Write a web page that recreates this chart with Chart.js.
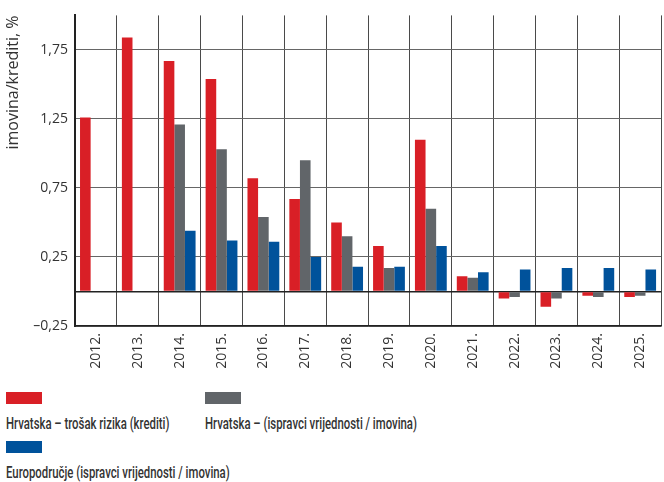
<!DOCTYPE html>
<html>
<head>
<meta charset="utf-8">
<script src="https://cdn.jsdelivr.net/npm/chart.js@4/dist/chart.umd.min.js"></script>
<style>
  body { margin: 0; background: #fff; }
  #wrap { position: relative; width: 664px; height: 482px; }
  #box { position: absolute; left: 0; top: 0; width: 664px; height: 380px; }
  .leg { position: absolute; font-family: Roboto, sans-serif; font-weight: 500; font-size: 16px; color: #333; white-space: nowrap; }
  .leg span { display: block; width: 36px; height: 12px; margin-bottom: 10px; }
  .leg b { display: inline-block; font-weight: 500; transform: scaleX(0.71); transform-origin: 0 0; }
</style>
</head>
<body>
<div id="wrap">
  <div id="box"><canvas id="chart"></canvas></div>
  <div id="legend"></div>
</div>
<script>
// podaci procijenjeni s grafikona
const years = ["2012.", "2013.", "2014.", "2015.", "2016.", "2017.", "2018.", "2019.", "2020.", "2021.", "2022.", "2023.", "2024.", "2025."];
const hrTrosakRizika = [1.26, 1.84, 1.67, 1.54, 0.82, 0.67, 0.50, 0.33, 1.10, 0.11, -0.05, -0.11, -0.03, -0.04];
const hrIspravci = [null, null, 1.21, 1.03, 0.54, 0.95, 0.40, 0.17, 0.60, 0.10, -0.04, -0.05, -0.04, -0.03];
const euIspravci = [null, null, 0.44, 0.37, 0.36, 0.25, 0.18, 0.18, 0.33, 0.14, 0.16, 0.17, 0.17, 0.16];
const yLabels = [-0.25, 0.25, 0.75, 1.25, 1.75];

const seriesNames = [
  "Hrvatska – trošak rizika (krediti)",
  "Hrvatska – (ispravci vrijednosti / imovina)",
  "Europodručje (ispravci vrijednosti / imovina)"
];
const colors = ["#d91f26", "#616569", "#00529b"];

function fmt(v) {
  const s = Math.abs(v).toFixed(2).replace(".", ",");
  return v < 0 ? "–" + s : s;
}
function isLabel(v) {
  return yLabels.some(l => Math.abs(l - v) < 1e-6);
}

const ctx = document.getElementById("chart").getContext("2d");
const chart = new Chart(ctx, {
  type: "bar",
  data: {
    labels: years,
    datasets: [hrTrosakRizika, hrIspravci, euIspravci].map((d, i) => ({
      label: seriesNames[i],
      data: d,
      backgroundColor: colors[i],
      borderWidth: 0,
      categoryPercentage: 0.76,
      barPercentage: 1.0
    }))
  },
  options: {
    responsive: true,
    maintainAspectRatio: false,
    animation: false,
    layout: { padding: { top: 15, right: 1, left: 0, bottom: 0 } },
    plugins: { legend: { display: false }, tooltip: { enabled: false } },
    scales: {
      x: {
        grid: { offset: true, color: "#4a4a4a", lineWidth: 1, drawTicks: false },
        border: { color: "#222", width: 1.5 },
        ticks: {
          minRotation: 90, maxRotation: 90, padding: 7, color: "#333",
          font: { family: "Open Sans", size: 14 }
        },
        afterFit: s => { s.height = 54; }
      },
      y: {
        min: -0.25, max: 2.0,
        grid: {
          drawTicks: false,
          color: c => c.tick.value === 0 ? "#222" : (isLabel(c.tick.value) ? "#666" : "rgba(0,0,0,0)"),
          lineWidth: c => c.tick.value === 0 ? 1.5 : 1
        },
        border: { color: "#222", width: 2 },
        ticks: {
          stepSize: 0.25, padding: 7, color: "#333",
          font: { family: "Open Sans", size: 14 },
          callback: v => isLabel(v) ? fmt(v) : ""
        },
        title: {
          display: true, text: "imovina/krediti, %", align: "end", color: "#333",
          font: { family: "Open Sans", size: 16 }, padding: { top: 4, bottom: 0 }
        },
        afterFit: s => { s.width = 75; }
      }
    }
  }
});

// legenda ispod grafikona
const legendPos = [[6, 392], [205, 392], [6, 441]];
const legend = document.getElementById("legend");
chart.data.datasets.forEach((ds, i) => {
  const el = document.createElement("div");
  el.className = "leg";
  el.style.left = legendPos[i][0] + "px";
  el.style.top = legendPos[i][1] + "px";
  el.innerHTML = '<span style="background:' + ds.backgroundColor + '"></span><b>' + ds.label + '</b>';
  legend.appendChild(el);
});
</script>
</body>
</html>
